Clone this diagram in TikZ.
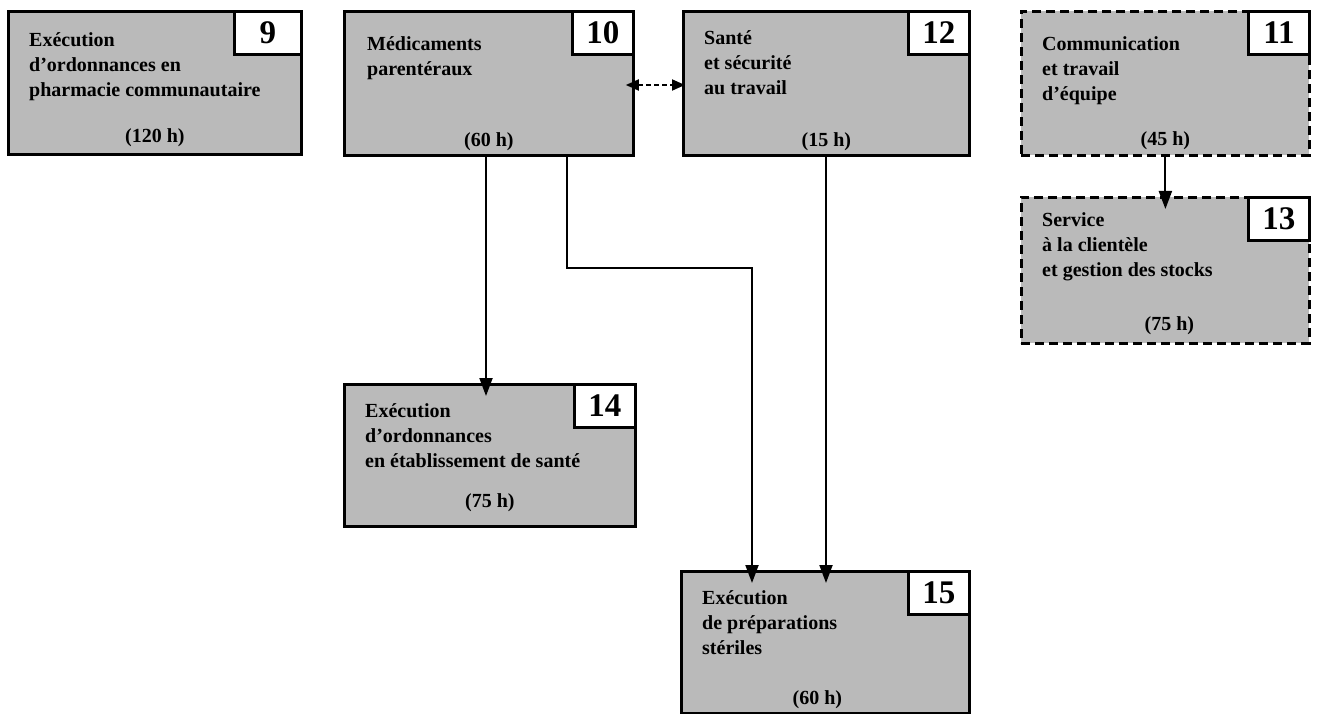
\documentclass[tikz,border=0pt]{standalone}
\usepackage{fontspec}
\setmainfont{Liberation Serif}
\usetikzlibrary{arrows.meta,calc}
\begin{document}
\begin{tikzpicture}[x=1pt,y=-1pt,
  box/.style={draw, line width=2.8pt, fill=black!27, anchor=north west, inner sep=0pt},
  dbox/.style={box, dash pattern=on 9pt off 5pt},
  numbox/.style={draw, line width=2.8pt, fill=white, anchor=north east, minimum width=61pt, minimum height=43pt, inner sep=0pt, font=\fontsize{33}{33}\selectfont\bfseries},
  title/.style={anchor=north west, align=left, inner sep=0pt, font=\fontsize{20}{25}\selectfont\bfseries, execute at begin node={\rule{0pt}{19pt}}},
  dur/.style={anchor=base, inner sep=0pt, font=\fontsize{20}{25}\selectfont\bfseries},
  arr/.style={line width=2pt, -{Triangle[length=18pt,width=13pt]}, shorten >=-13pt},
  darr/.style={line width=1.8pt, dash pattern=on 5pt off 3pt, {Triangle[length=13pt,width=11pt]}-{Triangle[length=13pt,width=11pt]}, shorten <=-9pt, shorten >=-3pt}
]
\useasboundingbox (0,0) rectangle (1318,714);

% boxes
\node[box, minimum width=293pt, minimum height=143pt] (b9) at (7,10) {};
\node[box, minimum width=289pt, minimum height=144pt] (b10) at (343,10) {};
\node[box, minimum width=286pt, minimum height=144pt] (b12) at (682,10) {};
\node[dbox, minimum width=288pt, minimum height=144pt] (b11) at (1020,10) {};
\node[dbox, minimum width=288pt, minimum height=146pt] (b13) at (1020,196) {};
\node[box, minimum width=291pt, minimum height=142pt] (b14) at (343,383) {};
\node[box, minimum width=288pt, minimum height=142pt] (b15) at (680,570) {};

% number boxes
\node[numbox, minimum width=67pt] (n9) at (b9.north east) {9};
\node[numbox] (n10) at (b10.north east) {10};
\node[numbox] (n12) at (b12.north east) {12};
\node[numbox] (n11) at (b11.north east) {11};
\node[numbox] (n13) at (b13.north east) {13};
\node[numbox] (n14) at (b14.north east) {14};
\node[numbox] (n15) at (b15.north east) {15};

% titles
\node[title] (t9) at ([shift={(22pt,-22pt)}]b9.north west) {Exécution\\d’ordonnances en\\pharmacie communautaire};
\node[title] (t10) at ([shift={(24pt,-26pt)}]b10.north west) {Médicaments\\parentéraux};
\node[title] (t12) at ([shift={(22pt,-20pt)}]b12.north west) {Santé\\et sécurité\\au travail};
\node[title] (t11) at ([shift={(22pt,-26pt)}]b11.north west) {Communication\\et travail\\d’équipe};
\node[title] (t13) at ([shift={(22pt,-16pt)}]b13.north west) {Service\\à la clientèle\\et gestion des stocks};
\node[title] (t14) at ([shift={(22pt,-20pt)}]b14.north west) {Exécution\\d’ordonnances\\en établissement de santé};
\node[title] (t15) at ([shift={(22pt,-20pt)}]b15.north west) {Exécution\\de préparations\\stériles};

% durations
\node[dur] (d9) at ([yshift=13pt]b9.south) {(120 h)};
\node[dur] (d10) at ([yshift=10pt]b10.south) {(60 h)};
\node[dur] (d12) at ([yshift=10pt]b12.south) {(15 h)};
\node[dur] (d11) at ([yshift=11pt]b11.south) {(45 h)};
\node[dur] (d13) at ([xshift=4pt,yshift=14pt]b13.south) {(75 h)};
\node[dur] (d14) at ([yshift=20pt]b14.south) {(75 h)};
\node[dur] (d15) at ([xshift=-8pt,yshift=10pt]b15.south) {(60 h)};

% connectors
\draw[arr] ([xshift=143pt]b10.south west) -- ([xshift=143pt]b14.north west);
\draw[arr] ([xshift=224pt]b10.south west) -- ++(0,111) -| ([xshift=72pt]b15.north west);
\draw[arr] ([xshift=144pt]b12.south west) -- ([xshift=146pt]b15.north west);
\draw[arr] (b11.south) -- (b13.north);
\draw[darr] ([yshift=-75pt]b10.north east) -- ([yshift=-75pt]b12.north west);
\end{tikzpicture}
\end{document}
